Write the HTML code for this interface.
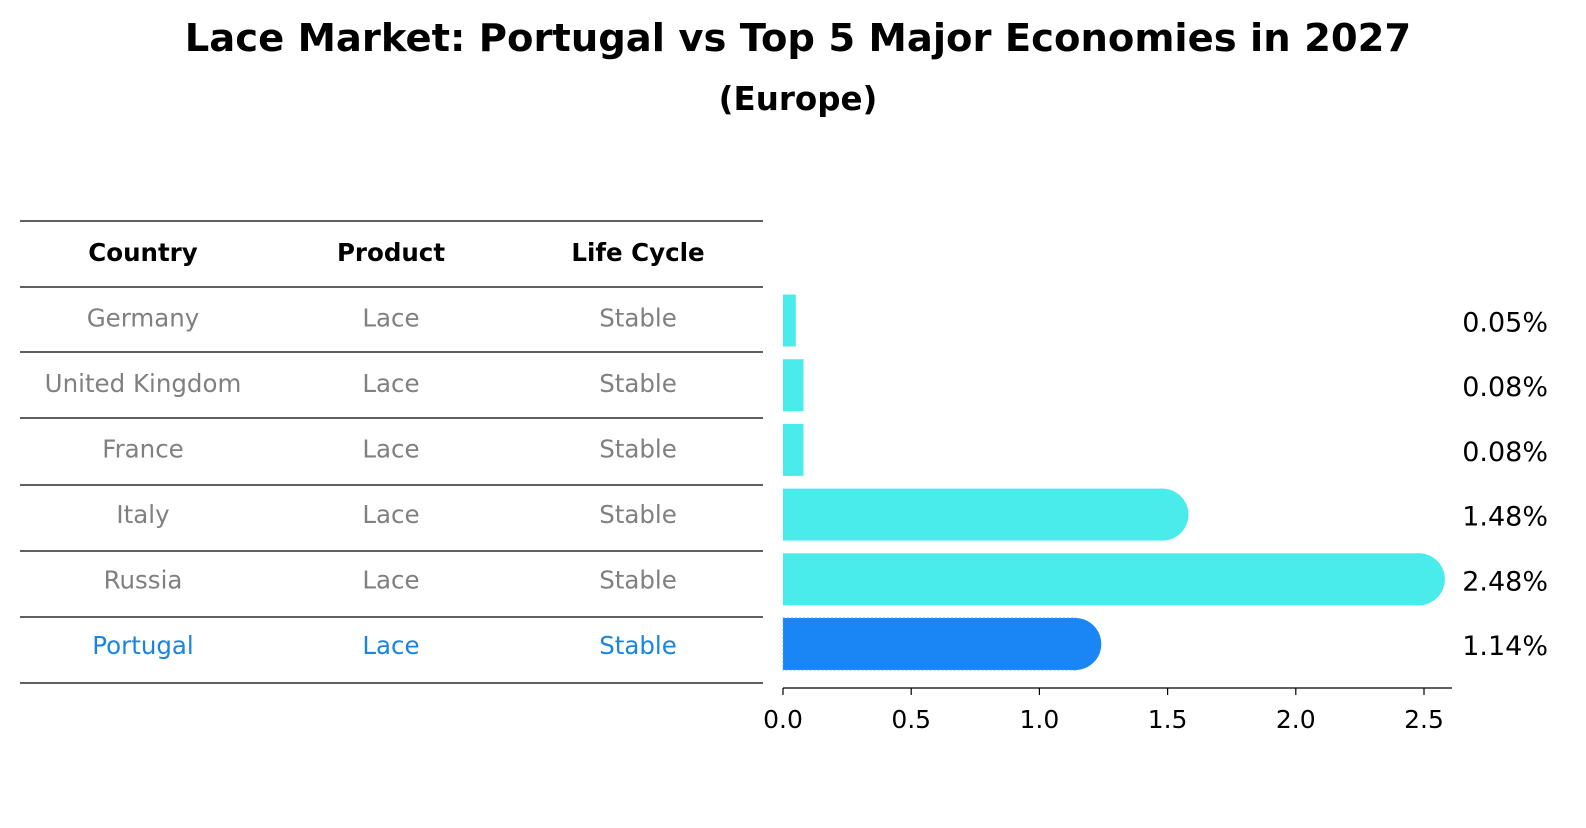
<!DOCTYPE html>
<html><head><meta charset="utf-8"><style>
body{margin:0;background:#fff;font-family:"Liberation Sans","DejaVu Sans",sans-serif;}
svg text{font-family:"DejaVu Sans","Liberation Sans",sans-serif;}
</style></head><body>
<svg width="1586" height="823" viewBox="0 0 1586 823">
<text x="798" y="51" text-anchor="middle" font-size="38.5" font-weight="bold">Lace Market: Portugal vs Top 5 Major Economies in 2027</text>
<text x="798" y="110" text-anchor="middle" font-size="32.5" font-weight="bold">(Europe)</text>
<g id="table"></g>
<g id="bars"></g>
</svg>
<script>
const countries=["Germany","United Kingdom","France","Italy","Russia","Portugal"];
const products=["Lace","Lace","Lace","Lace","Lace","Lace"];
const lifeCycles=["Stable","Stable","Stable","Stable","Stable","Stable"];
const values=[0.05,0.08,0.08,1.48,2.48,1.14];
const valueLabels=["0.05%","0.08%","0.08%","1.48%","2.48%","1.14%"];
const ticks=[0,0.5,1,1.5,2,2.5];
const tickLabels=["0.0","0.5","1.0","1.5","2.0","2.5"];
const NS="http://www.w3.org/2000/svg";
function mk(tag,attrs,parent,text){const e=document.createElementNS(NS,tag);for(const k in attrs)e.setAttribute(k,attrs[k]);if(text!==undefined)e.textContent=text;parent.appendChild(e);return e;}
const tbl=document.getElementById('table');
const lineYs=[221,287,352,418,485,551,617,683];
lineYs.forEach((y,i)=>{const l=mk('line',{x1:20,x2:763,y1:y,y2:y,stroke:'#000','stroke-width':1.2},tbl);

});
const colX=[143,391,638];
["Country","Product","Life Cycle"].forEach((h,i)=>{const t=mk('text',{x:colX[i],y:261,'text-anchor':'middle','font-size':24.5,'font-weight':'bold'},tbl,h);

});
function xs(v){return 783+v*256.4;}
function rowY(i){return 320+i*65.5;}
countries.forEach((c,i)=>{const col=i===countries.length-1?'#1a85e0':'#808080';
[c,products[i],lifeCycles[i]].forEach((s,j)=>{const t=mk('text',{x:colX[j],y:rowY(i)+6.5,'text-anchor':'middle','font-size':24.5,fill:col},tbl,s);

});});
const bg=document.getElementById('bars');
values.forEach((v,i)=>{const isP=i===values.length-1;const fill=isP?'#1a85f5':'#4aeceb';
const cy=320.5+i*64.7,h=52,x0=xs(0),x1=xs(v);const w=x1-x0;
const g=mk('g',{},bg);


mk('rect',{x:x0,y:cy-h/2,width:w,height:h,fill:fill,stroke:isP?'#5aa8f8':'none','stroke-dasharray':isP?'2,2':'none'},g);
if(w>h){mk('circle',{cx:x1,cy:cy,r:h/2,fill:fill},g);}
const t=mk('text',{x:1548,y:cy+11,'text-anchor':'end','font-size':27},bg,valueLabels[i]);

});
const ax=mk('line',{x1:783,x2:1452,y1:688,y2:688,stroke:'#000','stroke-width':1.2},bg);


ticks.forEach((v,i)=>{mk('line',{x1:xs(v),x2:xs(v),y1:688,y2:695,stroke:'#000','stroke-width':1.2},bg);
const t=mk('text',{x:xs(v),y:728,'text-anchor':'middle','font-size':25},bg,tickLabels[i]);

});
</script>
</body></html>
